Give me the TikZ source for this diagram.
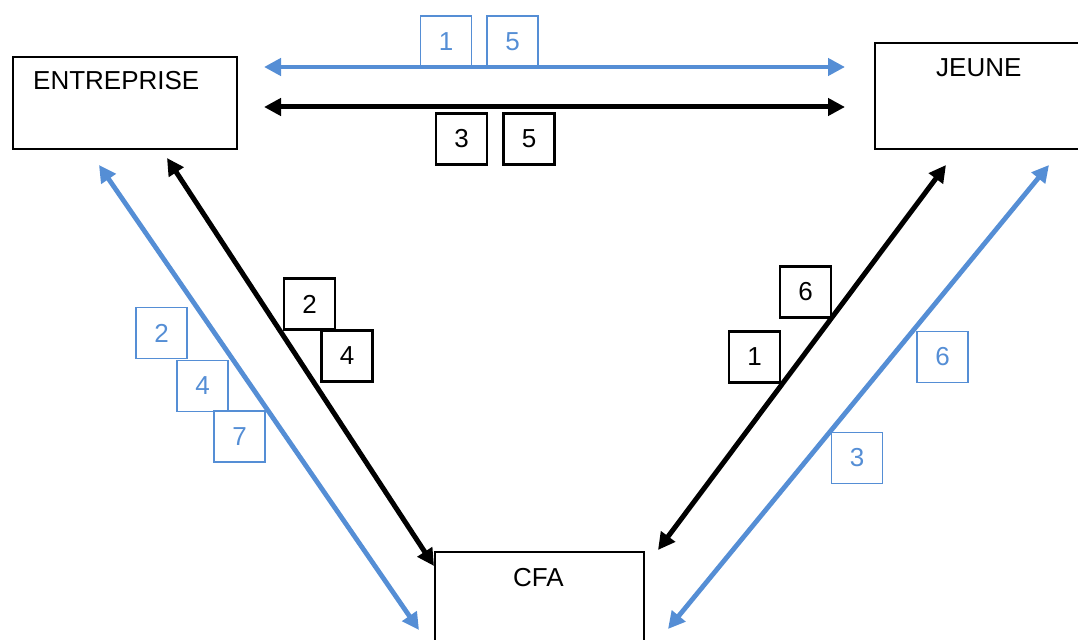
\documentclass[tikz,border=0pt]{standalone}
\usepackage{fontspec}
\setmainfont{Liberation Sans}
\usetikzlibrary{arrows.meta}
\definecolor{linkblue}{RGB}{85,142,213}
\begin{document}
\begin{tikzpicture}[x=1bp,y=-1bp,
  txt/.style={font=\fontsize{26bp}{30bp}\selectfont, inner sep=0pt, anchor=base west},
  bigbox/.style={draw=black, line width=2.2bp, anchor=north west, inner sep=0pt},
  numbox/.style={draw, minimum width=51bp, minimum height=51bp, inner sep=0pt,
    font=\fontsize{26bp}{30bp}\selectfont},
  bluenum/.style={numbox, draw=linkblue, text=linkblue, line width=1.8bp},
  blacknum/.style={numbox, draw=black, text=black, line width=2.2bp},
  tip/.style={{Triangle[length=17bp,width=17bp]}-{Triangle[length=17bp,width=17bp]}},
  bluearrow/.style={tip, draw=linkblue, line width=4.8bp},
  blackarrow/.style={tip, draw=black, line width=5bp}]
\useasboundingbox (0,0) rectangle (1078,640);

% main boxes
\node[bigbox, minimum width=224bp, minimum height=92bp] (ent) at (12,56) {};
\node[bigbox, minimum width=210bp, minimum height=106bp] (jeu) at (874,42) {};
\node[bigbox, minimum width=209bp, minimum height=100bp] (cfa) at (434,551) {};
\node[txt] (entt) at (33,90) {ENTREPRISE};
\node[txt] (jeut) at (936,77) {JEUNE};
\node[txt] (cfat) at (513,586) {CFA};

% number boxes
\node[bluenum] (b1) at (446,41.5) {1};
\node[bluenum] (b5) at (512.5,41.5) {5};
\node[blacknum] (k3) at (461.5,139) {3};
\node[blacknum] (k5) at (529,139) {5};
\node[bluenum] (b2) at (161.5,333) {2};
\node[bluenum] (b4) at (202.5,386) {4};
\node[bluenum] (b7) at (239.5,436.5) {7};
\node[blacknum] (k2) at (309.5,304) {2};
\node[blacknum] (k4) at (347,356) {4};
\node[blacknum] (k6) at (805.5,292) {6};
\node[blacknum] (k1) at (754.5,357) {1};
\node[bluenum] (b6) at (942.5,357) {6};
\node[bluenum] (b3) at (857,458) {3};

% connector end points
\coordinate (tbl) at (264,67);
\coordinate (tbr) at (845,67);
\coordinate (tkl) at (264,107);
\coordinate (tkr) at (845,107);
\coordinate (lbu) at (99,165);
\coordinate (lbd) at (419,630);
\coordinate (lku) at (167,158);
\coordinate (lkd) at (434,566);
\coordinate (rku) at (946,165);
\coordinate (rkd) at (658,550);
\coordinate (rbu) at (1049,165);
\coordinate (rbd) at (668,629);

% connectors
\draw[bluearrow] (tbl) -- (tbr);
\draw[blackarrow] (tkl) -- (tkr);
\draw[bluearrow] (lbu) -- (lbd);
\draw[blackarrow] (lku) -- (lkd);
\draw[blackarrow] (rku) -- (rkd);
\draw[bluearrow] (rbu) -- (rbd);
\end{tikzpicture}
\end{document}
